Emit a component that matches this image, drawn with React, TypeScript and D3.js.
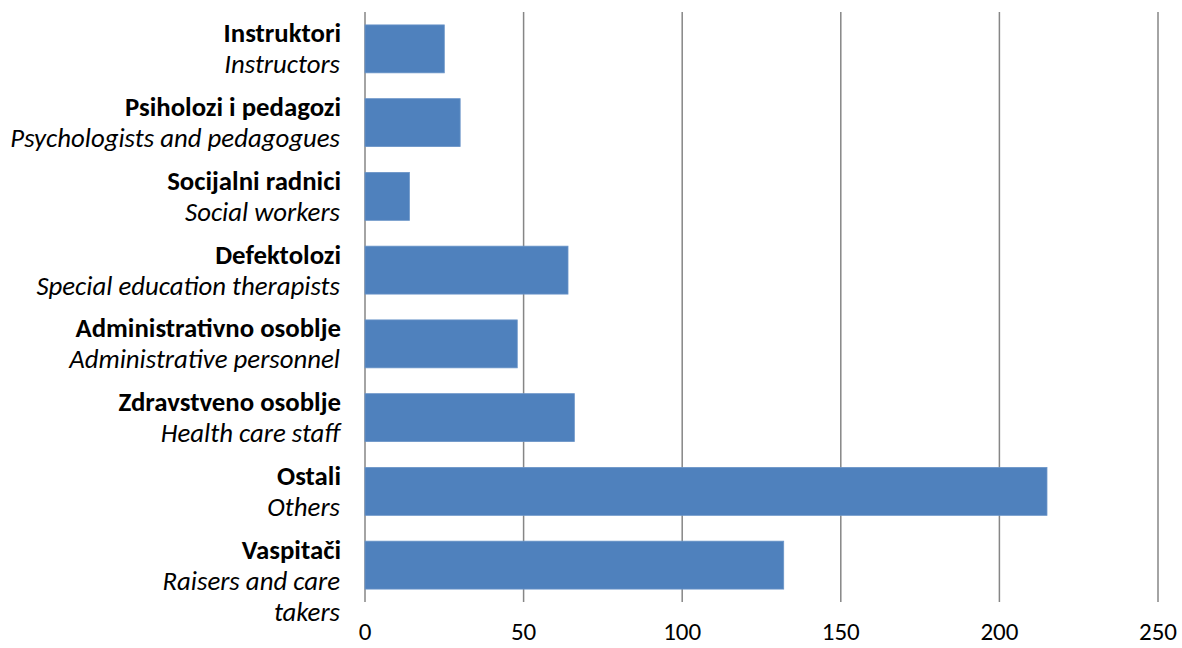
import React from "react";
import * as d3 from "d3";

const categoriesLocal = [
  "Instruktori",
  "Psiholozi i pedagozi",
  "Socijalni radnici",
  "Defektolozi",
  "Administrativno osoblje ",
  "Zdravstveno osoblje",
  "Ostali ",
  "Vaspitači",
];
const categoriesEnglish = [
  ["Instructors"],
  ["Psychologists and pedagogues"],
  ["Social workers "],
  ["Special education therapists"],
  ["Administrative personnel"],
  ["Health care staff"],
  ["Others "],
  ["Raisers and care", "takers"],
];
const values = [25, 30, 14, 64, 48, 66, 215, 132];
const xTicks = [0, 50, 100, 150, 200, 250];

const W = 1182;
const H = 648;
const left = 365;
const right = 1158;
const top = 12;
const bottom = 602;
const font = "Carlito, Calibri, Lato, 'Open Sans', sans-serif";

export default function App() {
  const x = d3.scaleLinear().domain([0, 250]).range([left, right]);
  const y = d3
    .scaleBand<number>()
    .domain(values.map((_, i) => i))
    .range([top, bottom])
    .paddingInner(0.35)
    .paddingOuter(0.175);

  return (
    <svg
      width={W}
      height={H}
      style={{ position: "absolute", left: 0, top: 0, background: "#fff" }}
    >
      {xTicks.map((t) => (
        <line
          key={"g" + t}
          x1={x(t)}
          x2={x(t)}
          y1={top}
          y2={bottom}
          stroke="#868686"
          strokeWidth={1.5}
        />
      ))}
      {values.map((v, i) => (
        <rect
          key={"b" + i}
          x={x(0)}
          y={y(i)}
          width={x(v) - x(0)}
          height={y.bandwidth()}
          fill="#4F81BD"
          stroke="#6b95c8"
          strokeWidth={0.8}
        />
      ))}
      {values.map((_, i) => {
        const cy = (y(i) as number) + y.bandwidth() / 2;
        const lines = categoriesEnglish[i];
        return (
          <g key={"l" + i} fontFamily={font} fontSize={26.8} textAnchor="end" style={{ whiteSpace: "pre" }}>
            <text x={341} y={cy - 16} dy="0.35em" fontWeight="bold" fill="#000">
              {categoriesLocal[i]}
            </text>
            {lines.map((ln, j) => (
              <text
                key={j}
                x={340}
                y={cy + 15 + j * 31}
                dy="0.35em"
                fontStyle="italic"
                fill="#000"
              >
                {ln}
              </text>
            ))}
          </g>
        );
      })}
      {xTicks.map((t) => (
        <text
          key={"t" + t}
          x={x(t)}
          y={631}
          dy="0.35em"
          textAnchor="middle"
          fontFamily={font}
          fontSize={25}
          fill="#000"
        >
          {t}
        </text>
      ))}
    </svg>
  );
}
